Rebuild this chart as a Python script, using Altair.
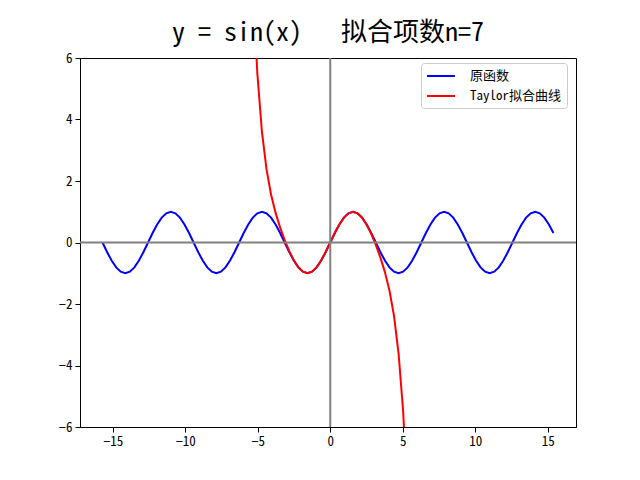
import altair as alt
import pandas as pd

# ---- data ----
x_vals = [-15.708, -15.394, -15.080, -14.765, -14.451, -14.137, -13.823, -13.509, -13.195, -12.881,
          -12.566, -12.252, -11.938, -11.624, -11.310, -10.996, -10.681, -10.367, -10.053, -9.739,
          -9.425, -9.111, -8.796, -8.482, -8.168, -7.854, -7.540, -7.226, -6.912, -6.597,
          -6.283, -5.969, -5.655, -5.341, -5.027, -4.712, -4.398, -4.084, -3.770, -3.456,
          -3.142, -2.827, -2.513, -2.199, -1.885, -1.571, -1.257, -0.942, -0.628, -0.314,
          0.000, 0.314, 0.628, 0.942, 1.257, 1.571, 1.885, 2.199, 2.513, 2.827,
          3.142, 3.456, 3.770, 4.084, 4.398, 4.712, 5.027, 5.341, 5.655, 5.969,
          6.283, 6.597, 6.912, 7.226, 7.540, 7.854, 8.168, 8.482, 8.796, 9.111,
          9.425, 9.739, 10.053, 10.367, 10.681, 10.996, 11.310, 11.624, 11.938, 12.252,
          12.566, 12.881, 13.195, 13.509, 13.823, 14.137, 14.451, 14.765, 15.080, 15.394]

sin_vals = [0.0, -0.309, -0.588, -0.809, -0.951, -1.0, -0.951, -0.809, -0.588, -0.309,
            0.0, 0.309, 0.588, 0.809, 0.951, 1.0, 0.951, 0.809, 0.588, 0.309,
            0.0, -0.309, -0.588, -0.809, -0.951, -1.0, -0.951, -0.809, -0.588, -0.309,
            0.0, 0.309, 0.588, 0.809, 0.951, 1.0, 0.951, 0.809, 0.588, 0.309,
            0.0, -0.309, -0.588, -0.809, -0.951, -1.0, -0.951, -0.809, -0.588, -0.309,
            0.0, 0.309, 0.588, 0.809, 0.951, 1.0, 0.951, 0.809, 0.588, 0.309,
            0.0, -0.309, -0.588, -0.809, -0.951, -1.0, -0.951, -0.809, -0.588, -0.309,
            0.0, 0.309, 0.588, 0.809, 0.951, 1.0, 0.951, 0.809, 0.588, 0.309,
            0.0, -0.309, -0.588, -0.809, -0.951, -1.0, -0.951, -0.809, -0.588, -0.309,
            0.0, 0.309, 0.588, 0.809, 0.951, 1.0, 0.951, 0.809, 0.588, 0.309]

taylor_x = [-5.341, -5.027, -4.712, -4.398, -4.084, -3.770, -3.456, -3.142, -2.827, -2.513,
            -2.199, -1.885, -1.571, -1.257, -0.942, -0.628, -0.314, 0.000, 0.314, 0.628,
            0.942, 1.257, 1.571, 1.885, 2.199, 2.513, 2.827, 3.142, 3.456, 3.770,
            4.084, 4.398, 4.712, 5.027, 5.341]
taylor_y = [8.430, 5.486, 3.602, 2.384, 1.561, 0.962, 0.483, 0.075, -0.279, -0.577,
            -0.806, -0.950, -1.000, -0.951, -0.809, -0.588, -0.309, 0.000, 0.309, 0.588,
            0.809, 0.951, 1.000, 0.950, 0.806, 0.577, 0.279, -0.075, -0.483, -0.962,
            -1.561, -2.384, -3.602, -5.486, -8.430]

series_names = ["原函数", "Taylor拟合曲线"]
series_colors = ["#0000ff", "#ff0000"]
title_text = "y = sin(x)\u00a0\u00a0\u00a0拟合项数n=7"

df = pd.concat([
    pd.DataFrame({"x": x_vals, "y": sin_vals, "s": series_names[0], "o": range(len(x_vals))}),
    pd.DataFrame({"x": taylor_x, "y": taylor_y, "s": series_names[1], "o": range(len(taylor_x))}),
])

MONO = "Noto Sans Mono CJK SC, DejaVu Sans Mono, Noto Sans CJK SC"

xs = alt.Scale(domain=[-17.26, 16.95], nice=False, zero=False)
ys = alt.Scale(domain=[-6, 6], nice=False, zero=False)

lines = alt.Chart(df).mark_line(strokeWidth=2, clip=True).encode(
    x=alt.X("x:Q", scale=xs, axis=alt.Axis(values=[-15, -10, -5, 0, 5, 10, 15], title=None,
                                           labelExpr="replace(datum.label, '-', '\u2212')")),
    y=alt.Y("y:Q", scale=ys, axis=alt.Axis(values=[-6, -4, -2, 0, 2, 4, 6], title=None,
                                           labelExpr="replace(datum.label, '-', '\u2212')")),
    color=alt.Color("s:N", scale=alt.Scale(domain=series_names, range=series_colors),
                    legend=alt.Legend(title=None, orient="none", legendX=341, legendY=5)),
    order="o:Q",
    detail="s:N",
)

hline = alt.Chart(pd.DataFrame({"v": [0]})).mark_rule(color="gray", strokeWidth=2).encode(
    y=alt.Y("v:Q", scale=ys)
)
vline = alt.Chart(pd.DataFrame({"v": [0]})).mark_rule(color="gray", strokeWidth=2).encode(
    x=alt.X("v:Q", scale=xs)
)

chart = alt.layer(lines, hline, vline).properties(
    width=496, height=369,
    title=alt.TitleParams(title_text, font=MONO, fontSize=26, fontWeight="normal",
                          color="black", anchor="middle", offset=6),
    autosize=alt.AutoSizeParams(type="none"),
    padding={"left": 80, "top": 58, "right": 64, "bottom": 53},
    background="white",
).configure_view(
    stroke="black", strokeWidth=1
).configure_axis(
    labelFont=MONO, labelFontSize=13, labelColor="black",
    tickColor="black", tickSize=5, domainColor="black", grid=False,
    labelPadding=3,
).configure_legend(
    fillColor="white", strokeColor="#cccccc", cornerRadius=3, padding=5,
    symbolType="M-1,0H3", symbolSize=196, symbolStrokeWidth=2,
    labelFont=MONO, labelFontSize=13, labelColor="black", rowPadding=5,
    labelOffset=28,
)

chart.save("out.html", embed_options={"renderer": "svg", "actions": False})
